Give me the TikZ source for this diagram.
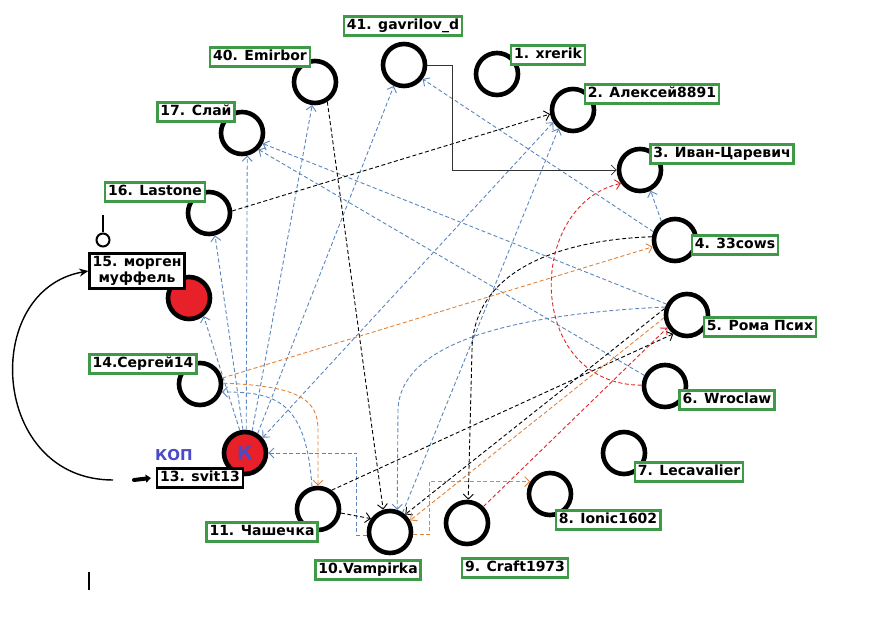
\documentclass[tikz,border=0pt]{standalone}
\usepackage{fontspec}
\setmainfont{DejaVu Sans}
\usetikzlibrary{arrows.meta}

\definecolor{voteblue}{HTML}{5B86BF}
\definecolor{voteorange}{HTML}{E0823A}
\definecolor{votered}{HTML}{E02424}
\definecolor{tagGreen}{HTML}{3E9A46}
\definecolor{copred}{HTML}{E8202A}
\definecolor{copblue}{HTML}{4B4BC8}

\begin{document}
\begin{tikzpicture}[x=1pt, y=-1pt, >={Straight Barb[length=5pt,width=10pt]},
    player/.style={circle, draw=black, line width=4.6pt, minimum size=42pt, inner sep=0pt},
    cop/.style={player, fill=copred},
    tagbase/.style={fill=white, line width=2.6pt, inner xsep=3pt, inner ysep=3pt,
        font=\fontsize{14}{15.5}\selectfont\bfseries},
    tag/.style={tagbase, draw=tagGreen, text height=10pt, text depth=2.5pt},
    copbox/.style={tagbase, draw=black},
    vote/.style={->, voteblue, line width=0.9pt, dash pattern=on 4pt off 2.5pt},
    blackvote/.style={vote, black},
    orangevote/.style={vote, voteorange},
    redvote/.style={vote, votered}]
    \useasboundingbox (0,0) rectangle (891,628);

    % Players round the table
    \node[player] (p41) at (404,65) {};
    \node[player] (p40) at (315,82) {};
    \node[player] (p1) at (497,74) {};
    \node[player] (p2) at (573,110) {};
    \node[player] (p17) at (242,133) {};
    \node[player] (p3) at (640,170) {};
    \node[player] (p16) at (209,213) {};
    \node[player] (p4) at (675,240) {};
    \node[cop] (p15) at (189,298) {};
    \node[player] (p5) at (687,315) {};
    \node[player] (p14) at (200,384) {};
    \node[player] (p6) at (665,386) {};
    \node[cop, text=copblue, font=\fontsize{19}{19}\selectfont\bfseries] (pK) at (245,453) {К};
    \node[player] (p7) at (624,453) {};
    \node[player] (p11) at (318,509) {};
    \node[player] (p8) at (550,494) {};
    \node[player] (p9) at (467,523) {};
    \node[player] (p10) at (390,532) {};

    % Blue votes
    \draw[vote] (pK.103) -- (p15.-51);
    \draw[vote] (pK.95) -- (p16.-75);
    \draw[vote] (pK.87) -- (p17.-77);
    \draw[vote] (pK.72) -- (p40.-97);
    \draw[vote] (pK.57) -- (p41.-116);
    \draw[vote, <->] (p2.212) -- (pK.41);
    \draw[vote] (p10.57) -- (p2.232);
    \draw[vote] (p5.152) -- (p17.-27);
    \draw[vote] (p6.153) -- (p17.-45);
    \draw[vote] (p4.159) -- (p41.-37);
    \draw[vote] (p4.126) -- (p3.-63);
    \draw[vote] (p5.160) .. controls (560,312) and (400,330) .. (398,410) -- (p10.72);
    \draw[vote] (p10.188) -- ++(-10,0) |- (pK.east);
    \draw[vote] (p11.105) .. controls (306,400) and (275,392) .. (p14.-20);

    % Black votes
    \draw[blackvote] (p16.5) -- (p2.190);
    \draw[blackvote] (p40.-58) -- (p10.107);
    \draw[blackvote] (p4.172) .. controls (560,240) and (473,270) .. (472,350) -- (p9.87);
    \draw[blackvote] (p11.54) -- (p5.234);
    \draw[blackvote] (p5.164) -- (p10.49);
    \draw[blackvote] (p11.-10) -- (p10.145);
    \draw[->, line width=0.7pt, black!80] (p41.east) -- ++(25,0) |- (p3.west);

    % Orange votes
    \draw[orangevote] (p14.15) -- (p4.197);
    \draw[orangevote] (p14.2) .. controls (300,386) and (318,400) .. (318,430) -- (p11.90);
    \draw[orangevote] (p5.187) -- (p10.30);
    \draw[orangevote] (p10.-7) -- ++(16,0) |- (p8.148);

    % Red votes
    \draw[redvote] (p9.45) -- (p5.213);
    \draw[redvote] (p6.178) .. controls (525,385) and (525,205) .. (p3.215);

    % Name tags
    \node[tag] (t41) at (403,26) {41. gavrilov\_d};
    \node[tag] (t40) at (260,57) {40. Emirbor};
    \node[tag] (t1) at (548,55) {1. xrerik};
    \node[tag] (t2) at (652,94) {2. Алексей8891};
    \node[tag] (t17) at (196,112) {17. Слай};
    \node[tag] (t3) at (722,154) {3. Иван-Царевич};
    \node[tag] (t16) at (155,192) {16. Lastone};
    \node[tag] (t4) at (735,245) {4. 33cows};
    \node[copbox, align=center] (t15) at (137,271) {15. морген\\муффель};
    \node[tag] (t14) at (143,364) {14.Сергей14};
    \node[tag] (t5) at (760,327) {5. Рома Псих};
    \node[tag] (t6) at (727,400) {6. Wroclaw};
    \node[tag] (t7) at (689,472) {7. Lecavalier};
    \node[copbox, text height=10pt, text depth=2.5pt] (t13) at (200,478) {13. svit13};
    \node[tag] (t11) at (262,532) {11. Чашечка};
    \node[tag] (t10) at (368,570) {10.Vampirka};
    \node[tag] (t9) at (515,568) {9. Craft1973};
    \node[tag] (t8) at (608,520) {8. Ionic1602};
    \node[text=copblue, font=\fontsize{15}{15}\selectfont\bfseries] (kop) at (174,455) {КОП};

    % Marks on the left
    \node[circle, draw, line width=2pt, minimum size=13pt, inner sep=0pt] (pin) at (103,240) {};
    \draw[line width=2pt] (pin.north) -- ++(0,-17);
    \coordinate (loopStart) at (113,480);
    \draw[-{Stealth[length=9pt,width=8pt]}, line width=1.4pt]
        (loopStart) .. controls (-10,480) and (-20,290) .. (t15.west);
    \coordinate (pushTail) at (134,480);
    \draw[line width=4pt, line cap=round, -{Triangle[length=5pt,width=8pt]}]
        (pushTail) -- ([xshift=-5pt]t13.west);
    \coordinate (caret) at (89,572);
    \draw[line width=1.3pt] (caret) -- ++(0,18);
\end{tikzpicture}
\end{document}
